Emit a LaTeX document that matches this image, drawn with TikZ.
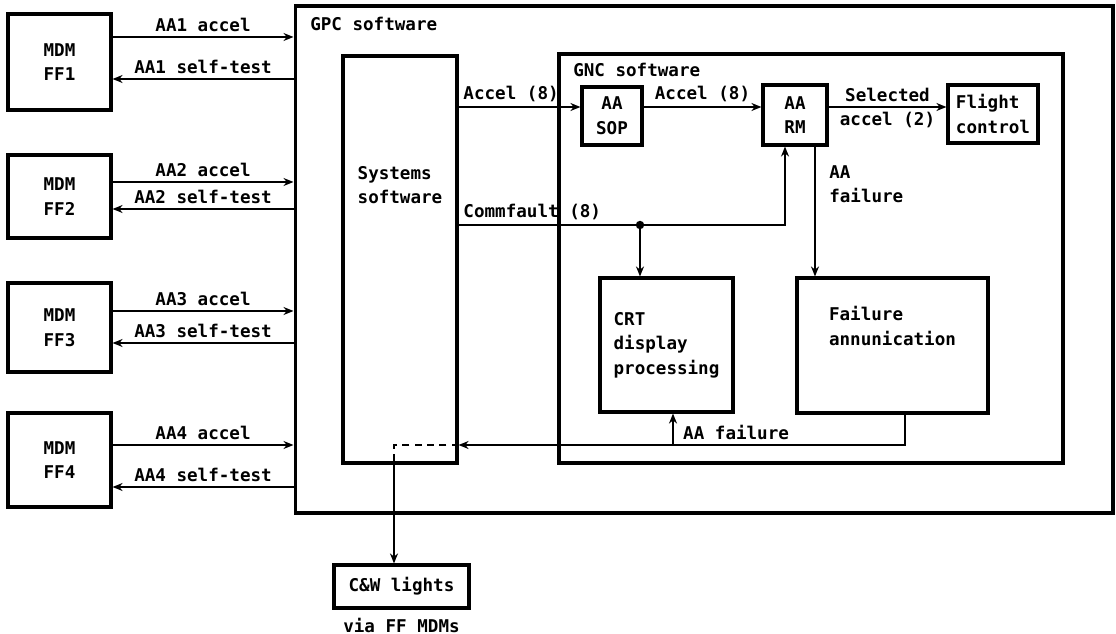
\documentclass[tikz,border=0pt]{standalone}
\usepackage{fontspec}
\setmonofont{DejaVu Sans Mono}
\usetikzlibrary{arrows.meta, calc, positioning}

\begin{document}
\begin{tikzpicture}[x=0.02cm, y=-0.02cm,
    font=\ttfamily\bfseries\fontsize{10}{14}\selectfont,
    line width=1.6pt,
    box/.style={draw, line width=1.8pt, inner sep=0pt, align=center},
    sig/.style={-{Stealth[length=2mm,width=1.6mm]}},
    lbl/.style={inner sep=2pt}]
  \useasboundingbox (0,0) rectangle (1116,634);

  % outer software blocks
  \node[box, minimum width=16.36cm, minimum height=10.14cm] (gpc) at (704,259.5) {};
  \node[anchor=west] (gpctxt) at (303,24) {GPC software};
  \node[box, minimum width=2.28cm, minimum height=8.14cm] (sys) at (400,259.5) {};
  \node[align=left] (systxt) at (400,185) {Systems\\software};
  \node[box, minimum width=10.08cm, minimum height=8.18cm] (gnc) at (811,258.5) {};
  \node[anchor=west] (gnctxt) at (566,70) {GNC software};

  % MDMs and their links
  \foreach \i/\y/\h/\ya/\ys in {1/62/1.92/37/79, 2/196.5/1.66/182/209,
                                3/327.5/1.78/311/343, 4/460/1.88/445/487} {
    \node[box, minimum width=2.06cm, minimum height=\h cm] (ff\i) at (59.5,\y) {MDM\\FF\i};
    \draw[sig] (ff\i.east |- 0,\ya) -- (gpc.west |- 0,\ya)
      node[midway, above, lbl] {AA\i\ accel};
    \draw[sig] (gpc.west |- 0,\ys) -- (ff\i.east |- 0,\ys)
      node[midway, above, lbl] {AA\i\ self-test};
  }

  % GNC blocks
  \node[box, minimum width=1.2cm, minimum height=1.16cm] (sop) at (612,116) {AA\\SOP};
  \node[box, minimum width=1.28cm, minimum height=1.2cm] (rm) at (795,115) {AA\\RM};
  \node[box, align=left, minimum width=1.8cm, minimum height=1.16cm] (fc) at (993,114) {Flight\\control};
  \node[box, align=left, minimum width=2.66cm, minimum height=2.68cm] (crt) at (666.5,345) {CRT\\display\\processing};
  \node[box, minimum width=3.82cm, minimum height=2.7cm] (fa) at (892.5,345.5) {};
  \node[align=left] (fatxt) at (892.5,326) {Failure\\annunication};
  \node[box, minimum width=2.7cm, minimum height=0.86cm] (cw) at (401.5,586.5) {C\&W lights};
  \node (cwtxt) at (401.5,625) {via FF MDMs};

  % accel path
  \draw[sig] (sys.east |- 0,107) -- (sop.west |- 0,107)
    node[pos=0, anchor=south west, lbl] {Accel (8)};
  \draw[sig] (sop.east |- 0,107) -- (rm.west |- 0,107)
    node[midway, above, lbl] {Accel (8)};
  \draw[sig] (rm.east |- 0,107) -- (fc.west |- 0,107)
    node[midway, above, lbl] {Selected} node[midway, below, lbl] {accel (2)};

  % commfault
  \coordinate (jn) at (640,225);
  \coordinate (rmin) at ([xshift=-0.2cm]rm.south);
  \draw[sig] (sys.east |- jn) -| (rmin)
    node[pos=0, anchor=south west, lbl] {Commfault (8)};
  \fill (jn) circle (2.4pt);
  \draw[sig] (jn) -- (jn |- crt.north);

  % failure paths
  \coordinate (rmout) at ([xshift=0.4cm]rm.south);
  \draw[sig] (rmout) -- (rmout |- fa.north);
  \node[anchor=north west, align=left] (failtxt) at (822,158) {AA\\failure};
  \coordinate (faout) at ([xshift=0.25cm]fa.south);
  \coordinate (tap) at (394,445);
  \draw[sig] (faout) |- (sys.east |- tap);
  \coordinate (crtin) at ([xshift=0.13cm]crt.south);
  \draw[sig] (crtin |- tap) -- (crtin)
    node[pos=0, anchor=south west, lbl, xshift=3pt] {AA failure};
  \draw[dash pattern=on 4pt off 3pt] (sys.east |- tap) -- (tap) -- (tap |- sys.south);
  \draw[sig] (tap |- sys.south) -- (tap |- cw.north);
\end{tikzpicture}
\end{document}
